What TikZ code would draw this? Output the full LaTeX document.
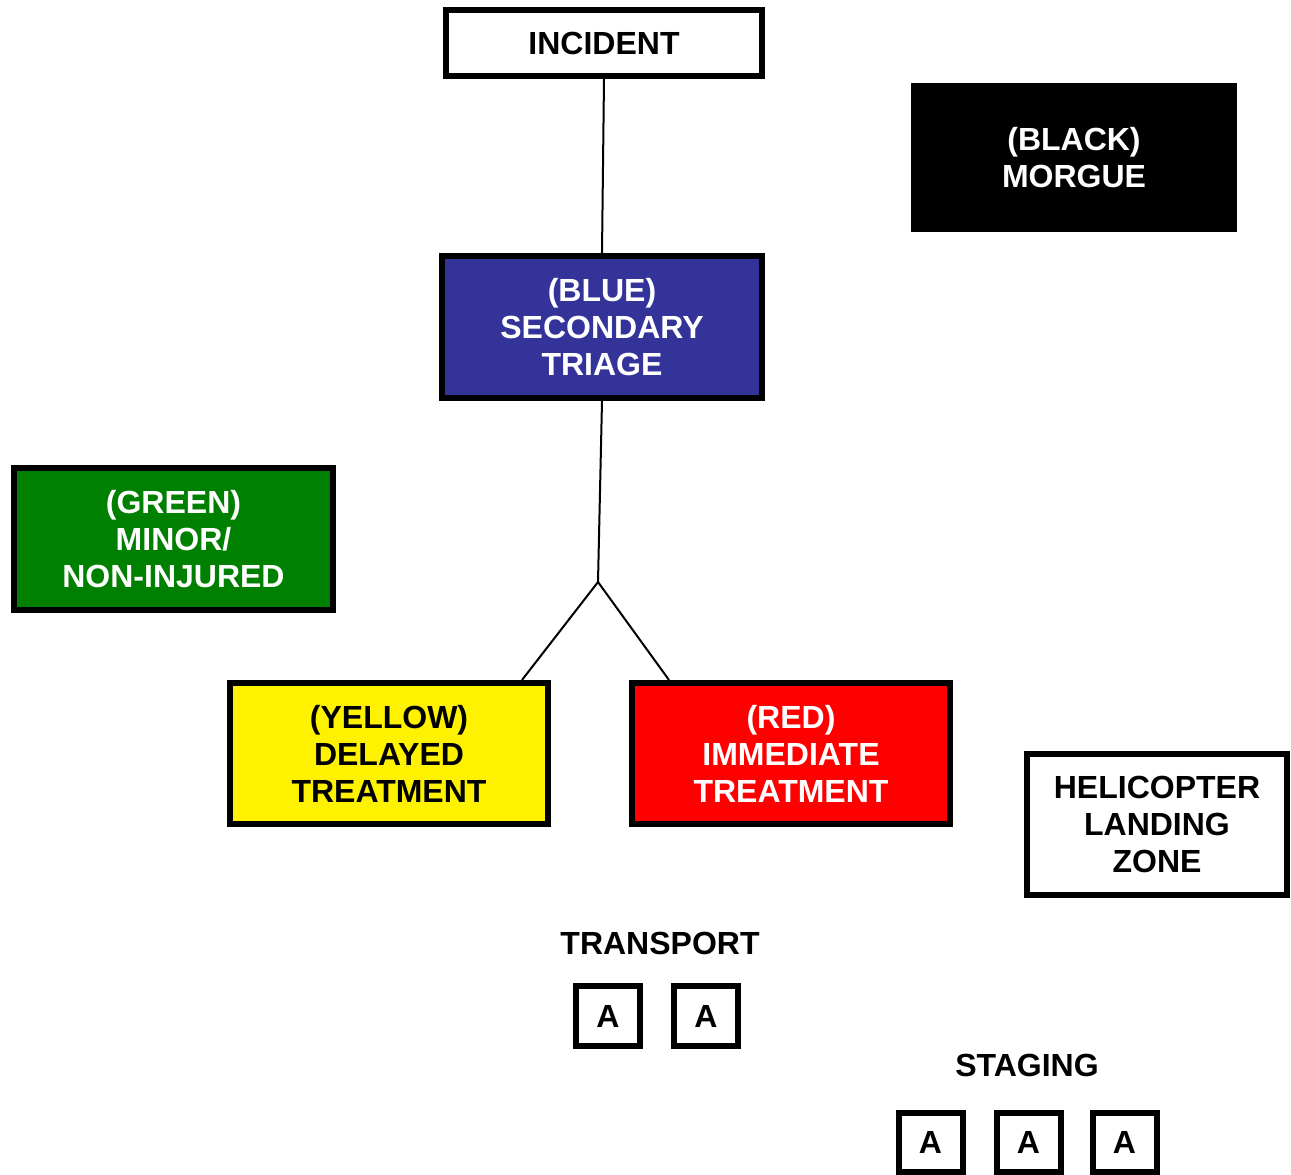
\documentclass[tikz,border=0pt]{standalone}
\usepackage{fontspec}
\setmainfont{Liberation Sans}
\usetikzlibrary{calc}
\definecolor{triageblue}{RGB}{51,51,153}
\definecolor{triagegreen}{RGB}{0,128,0}
\tikzset{
    boxtext/.style={font=\bfseries\fontsize{32}{37}\selectfont, align=center},
    box/.style={boxtext, draw, line width=6pt, inner sep=0pt},
    abox/.style={box, minimum width=64pt, minimum height=60pt},
    link/.style={line width=2pt}
}

\begin{document}
\begin{tikzpicture}[x=1pt,y=-1pt]
\useasboundingbox (0,0) rectangle (1291,1175);
% main boxes
\node[box, minimum width=316pt, minimum height=66pt] (incident) at (604,43) {INCIDENT};
\node[box, draw=none, fill=black, text=white, minimum width=326pt, minimum height=149pt] (morgue) at (1074,157.5) {(BLACK)\\MORGUE};
\node[box, fill=triageblue, text=white, minimum width=320pt, minimum height=142pt] (triage) at (602,327) {(BLUE)\\SECONDARY\\TRIAGE};
\node[box, fill=triagegreen, text=white, minimum width=319pt, minimum height=142pt] (minor) at (173.5,539) {(GREEN)\\MINOR/\\NON-INJURED};
\node[box, fill=yellow, minimum width=318pt, minimum height=141pt] (delayed) at (389,753.5) {(YELLOW)\\DELAYED\\TREATMENT};
\node[box, fill=red, text=white, minimum width=318pt, minimum height=141pt] (immediate) at (791,753.5) {(RED)\\IMMEDIATE\\TREATMENT};
\node[box, minimum width=260pt, minimum height=141pt] (heli) at (1157,824.5) {HELICOPTER\\LANDING\\ZONE};
% connectors
\coordinate (fork) at (598,582);
\draw[link] (incident.south) -- (triage.north);
\draw[link] (triage.south) -- (fork);
\draw[link] (fork) -- ([xshift=-29pt]delayed.north east);
\draw[link] (fork) -- ([xshift=40pt]immediate.north west);
% ambulances
\node[boxtext] (transport) at (660,943) {TRANSPORT};
\foreach \x [count=\i] in {608,706}{
    \node[abox] (tr\i) at (\x,1016) {A};
}
\node[boxtext] (staging) at (1027,1065) {STAGING};
\foreach \x [count=\i] in {930.5,1028.5,1124.5}{
    \node[abox, minimum height=59pt] (st\i) at (\x,1142) {A};
}
\end{tikzpicture}
\end{document}
